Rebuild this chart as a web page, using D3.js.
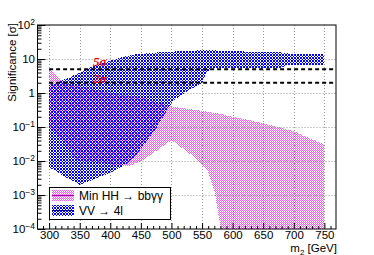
<!DOCTYPE html>
<html>
<head>
<meta charset="utf-8">
<script src="https://cdn.jsdelivr.net/npm/d3@7"></script>
<style>
  body { margin: 0; background: #fff; }
  svg { display: block; font-family: "Liberation Sans", Arial, sans-serif; }
</style>
</head>
<body>
<svg id="chart" width="374" height="255"></svg>
<script>
// Min HH -> bbgg band (lower / upper edge)
const hhMass = [300, 325, 345, 350, 400, 430, 455, 475, 500, 537, 560, 570, 581, 590, 600, 650, 700, 750];
const hhLow  = [0.11, 0.03, 0.011, 0.01, 0.008, 0.007, 0.011, 0.02, 0.041, 0.013, 0.0047, 0.0014, 1e-4, 1e-6, 1e-6, 1e-6, 1e-6, 1e-6];
const hhHigh = [5.2, 2.0, 1.65, 1.6, 1.0, 0.85, 0.7, 0.55, 0.4, 0.32, 0.28, 0.26, 0.24, 0.22, 0.2, 0.13, 0.075, 0.03];

// VV -> 4l band
const vvMass = [300, 325, 350, 375, 400, 425, 440, 455, 475, 493, 503, 525, 550, 558, 565, 600, 650, 680, 690, 750];
const vvLow  = [0.0066, 0.0035, 0.002, 0.003, 0.0045, 0.008, 0.013, 0.03, 0.09, 0.32, 0.6, 1.1, 2.0, 4.0, 5.3, 5.3, 5.4, 5.5, 6.5, 6.5];
const vvHigh = [1.7, 2.5, 4.0, 6.5, 9, 12, 13.5, 14.5, 15.5, 16, 16.5, 17.5, 18, 18, 18, 17, 16, 15.5, 14.5, 14];

const xMajor = [300, 350, 400, 450, 500, 550, 600, 650, 700, 750];
const yMajor = [1e-4, 1e-3, 1e-2, 1e-1, 1, 10, 100];
const yLabels = ["10|−4", "10|−3", "10|−2", "10|−1", "1", "10", "10|2"];
const sigmaLines = [5, 2];
const sigmaText = ["5σ", "2σ"];
const legendText = ["Min HH → bbγγ", "VV → 4l"];

const svg = d3.select("#chart");
const L = 37.5, R = 336, T = 25, B = 229;

const x = d3.scaleLinear().domain([281, 769]).range([L, R]);
const y = d3.scaleLog().domain([1e-4, 100]).range([B, T]);

// patterns
const defs = svg.append("defs");
const pp = defs.append("pattern").attr("id", "pinkP").attr("patternUnits", "userSpaceOnUse")
  .attr("width", 2).attr("height", 2);
[[0, 0], [1, 1]].forEach(c =>
  pp.append("rect").attr("x", c[0]).attr("y", c[1]).attr("width", 1).attr("height", 1)
    .attr("fill", "#ff00ff").attr("fill-opacity", 0.65));

const bp = defs.append("pattern").attr("id", "blueP").attr("patternUnits", "userSpaceOnUse")
  .attr("width", 3).attr("height", 3);
[[0, 0], [1, 0], [0, 1], [1, 1], [2, 2]].forEach(c =>
  bp.append("rect").attr("x", c[0]).attr("y", c[1]).attr("width", 1).attr("height", 1)
    .attr("fill", "#0000ff"));

defs.append("clipPath").attr("id", "frameClip")
  .append("rect").attr("x", L).attr("y", T).attr("width", R - L).attr("height", B - T);

// grid
const grid = svg.append("g").attr("stroke", "#999").attr("stroke-dasharray", "1,2").attr("stroke-width", 1);
grid.selectAll("line.gx").data(xMajor).join("line")
  .attr("x1", d => Math.round(x(d)) + 0.5).attr("x2", d => Math.round(x(d)) + 0.5)
  .attr("y1", T).attr("y2", B);
grid.selectAll("line.gy").data(yMajor.slice(1, -1)).join("line")
  .attr("x1", L).attr("x2", R)
  .attr("y1", d => Math.round(y(d)) + 0.5).attr("y2", d => Math.round(y(d)) + 0.5);

// bands
const plot = svg.append("g").attr("clip-path", "url(#frameClip)").attr("shape-rendering", "crispEdges");
const hhData = hhMass.map((m, i) => ({ m, lo: hhLow[i], hi: hhHigh[i] }));
const vvData = vvMass.map((m, i) => ({ m, lo: vvLow[i], hi: vvHigh[i] }));
const area = d3.area().x(d => x(d.m)).y0(d => y(d.lo)).y1(d => y(d.hi));
plot.append("path").datum(hhData).attr("d", area).attr("fill", "url(#pinkP)");
plot.append("path").datum(vvData).attr("d", area).attr("fill", "url(#blueP)");

// sigma lines
svg.selectAll("line.sig").data(sigmaLines).join("line")
  .attr("x1", x(300)).attr("x2", R)
  .attr("y1", d => y(d)).attr("y2", d => y(d))
  .attr("stroke", "#000").attr("stroke-width", 2).attr("stroke-dasharray", "4,3");
svg.selectAll("text.sig").data(sigmaLines).join("text")
  .attr("x", 93).attr("y", (d, i) => y(d) - (i === 0 ? 3 : -0.5))
  .attr("font-family", "Liberation Serif, serif").attr("font-weight", "bold").attr("font-style", "italic")
  .attr("font-size", 13).attr("fill", "#ff0000")
  .text((d, i) => sigmaText[i]);

// axes
svg.append("g").attr("transform", `translate(0,${B})`)
  .call(d3.axisBottom(x).tickValues(xMajor).tickSize(-6).tickPadding(2).tickFormat(d3.format("d")));
svg.append("g").attr("transform", `translate(0,${B})`)
  .call(d3.axisBottom(x).tickValues(d3.range(290, 770, 10).filter(v => v % 50)).tickSize(-3).tickFormat(""));

const yMinor = [];
yMajor.slice(0, -1).forEach(v => { for (let k = 2; k < 10; k++) yMinor.push(v * k); });
const yAxis = svg.append("g").attr("transform", `translate(${L},0)`)
  .call(d3.axisLeft(y).tickValues(yMajor).tickSize(-8).tickPadding(2.5).tickFormat((d, i) => yLabels[i]));
svg.append("g").attr("transform", `translate(${L},0)`)
  .call(d3.axisLeft(y).tickValues(yMinor).tickSize(-4).tickFormat(""));

svg.selectAll(".domain").remove();
svg.selectAll(".tick line").attr("stroke", "#000");
svg.selectAll(".tick text").attr("font-size", 11.5).attr("fill", "#000").attr("font-family", "Liberation Sans, Arial, sans-serif");

yAxis.selectAll(".tick text").each(function (d, i) {
  const parts = yLabels[i].split("|");
  const t = d3.select(this).text(parts[0]);
  if (parts[1]) t.append("tspan").attr("font-size", 8.5).attr("dy", "-0.55em").text(parts[1]);
});

// frame
svg.append("rect").attr("x", L).attr("y", T).attr("width", R - L).attr("height", B - T)
  .attr("fill", "none").attr("stroke", "#000").attr("stroke-width", 1);

// axis titles
const xt = svg.append("text").attr("x", 337).attr("y", 252).attr("text-anchor", "end").attr("font-size", 11.5);
xt.append("tspan").text("m");
xt.append("tspan").attr("font-size", 8).attr("dy", 2.5).text("2");
xt.append("tspan").attr("dy", -2.5).text(" [GeV]");

svg.append("text").attr("transform", "translate(15.5,23) rotate(-90)").attr("text-anchor", "end")
  .attr("font-size", 11.5).text("Significance [σ]");

// legend
const lg = svg.append("g");
lg.append("rect").attr("x", 49.5).attr("y", 187.5).attr("width", 121).attr("height", 32)
  .attr("fill", "#fff").attr("stroke", "#000");
const swFill = ["url(#pinkP)", "url(#blueP)"];
const swLine = ["#b000b0", "#0000a0"];
legendText.forEach((t, i) => {
  const yy = 190 + i * 15;
  lg.append("rect").attr("x", 52).attr("y", yy).attr("width", 22).attr("height", 11)
    .attr("fill", swFill[i]).attr("shape-rendering", "crispEdges");
  lg.append("line").attr("x1", 52).attr("x2", 74).attr("y1", yy + 5.5).attr("y2", yy + 5.5)
    .attr("stroke", swLine[i]).attr("stroke-width", 1);
  lg.append("text").attr("x", 79).attr("y", yy + 10).attr("font-size", 12).text(t);
});
</script>
</body>
</html>
